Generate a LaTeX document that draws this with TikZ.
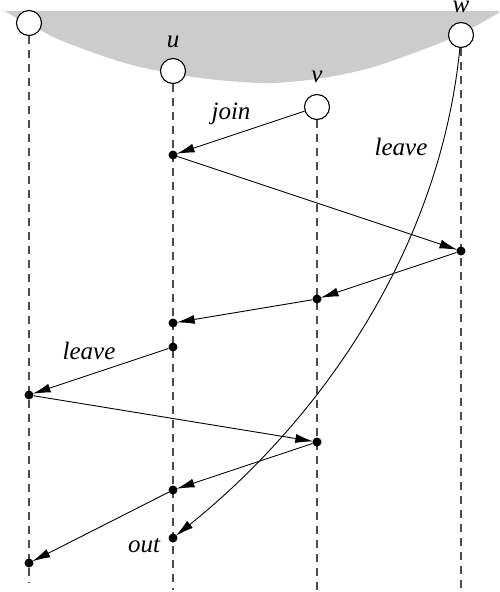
\documentclass[tikz,border=0pt]{standalone}
\usepackage{fontspec}
\setmainfont{Liberation Serif}
\usetikzlibrary{arrows.meta}
\begin{document}
\begin{tikzpicture}[x=1pt,y=-1pt,
  proc/.style={circle,draw,fill=white,line width=1.1pt,minimum size=25pt,inner sep=0pt},
  ev/.style={circle,fill=black,minimum size=9pt,inner sep=0pt},
  life/.style={dash pattern=on 8pt off 6pt,draw=black!70,line width=1.1pt},
  msg/.style={-{Latex[length=18pt,width=9pt]},line width=0.9pt,shorten >=-1pt},
  lab/.style={font=\fontsize{25}{30}\selectfont\itshape,inner sep=0pt,anchor=base}]
\useasboundingbox (0,0) rectangle (499,592);
\begin{scope}
\clip (0,0) rectangle (499,592);
\fill[black!20] plot[smooth] coordinates {(3,10) (20,20) (40,30) (60,40) (100,55) (140,67) (200,78) (260,83) (300,81) (340,75) (380,65) (440,43) (470,29) (490,18) (505,9)} -- (505,11) -- (3,11) -- cycle;
\end{scope}
% processes
\node[proc] (p) at (29,23) {};
\node[proc] (u) at (173,71) {};
\node[proc] (v) at (317,107) {};
\node[proc] (w) at (461,35) {};
% lifelines ends
\coordinate (pe) at (29,583);
\coordinate (ue) at (173,590);
\coordinate (ve) at (317,590);
\coordinate (we) at (461,590);
\draw[life] (p.south) -- (pe);
\draw[life] (u.south) -- (ue);
\draw[life] (v.south) -- (ve);
\draw[life] (w.south) -- (we);
% labels
\node[lab] (lu) at (173,47) {u};
\node[lab] (lv) at (317,82) {v};
\node[lab] (lw) at (461,12) {w};
% events
\node[ev] (u1) at (173,155) {};
\node[ev] (w1) at (461,251) {};
\node[ev] (v1) at (317,299) {};
\node[ev] (u2) at (173,323) {};
\node[ev] (u3) at (173,347) {};
\node[ev] (p1) at (29,395) {};
\node[ev] (v2) at (317,442) {};
\node[ev] (u4) at (173,490) {};
\node[ev] (u5) at (173,538) {};
\node[ev] (p2) at (29,563) {};
% messages
\draw[msg] (v) -- (u1);
\draw[msg] (u1) -- (w1);
\draw[msg] (w1) -- (v1);
\draw[msg] (v1) -- (u2);
\draw[msg] (u3) -- (p1);
\draw[msg] (p1) -- (v2);
\draw[msg] (v2) -- (u4);
\draw[msg] (u4) -- (p2);
\draw[msg] (w.265) .. controls (440,250) and (320,420) .. (u5);
% message labels
\node[lab] (tj) at (231,119) {join};
\node[lab] (tl1) at (401,155) {leave};
\node[lab] (tl2) at (89,359) {leave};
\node[lab] (to) at (144,552) {out};
\end{tikzpicture}
\end{document}
